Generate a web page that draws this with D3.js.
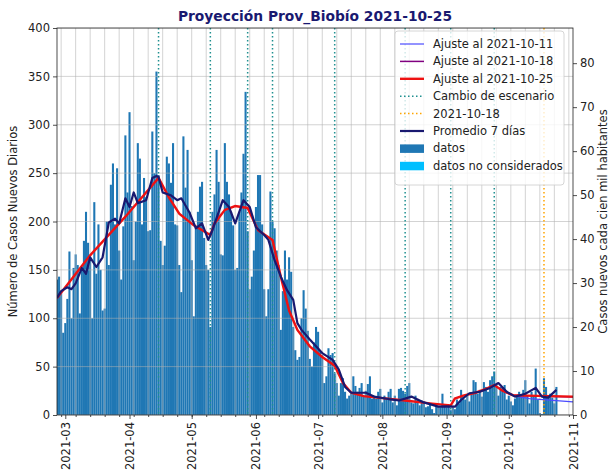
<!DOCTYPE html>
<html><head><meta charset="utf-8">
<script src="https://cdn.jsdelivr.net/npm/d3@7"></script>
<style>body{margin:0;background:#fff} svg{display:block} text{font-family:"DejaVu Sans",sans-serif}</style>
</head><body><svg id="c" width="613" height="474"></svg>
<script>
// ---------------- DATA ----------------
const titleText = "Proyección Prov_Biobío 2021-10-25";
const startDate = "2021-02-25";
const casesFeb = [140,143,127,85];
const casesMar = [95,120,169,100,152,166,155,105,150,180,210,178,160,100,220,146,197,150,108,110,200,155,238,260,197,255,170,140,195,289,230];
const casesApr = [313,216,160,200,281,265,197,245,225,190,191,293,250,355,248,180,155,175,267,260,240,281,197,196,155,127,288,235,274,210];
const casesMay = [160,102,193,210,236,241,183,155,150,91,210,228,274,241,166,165,281,241,228,210,196,150,152,210,230,270,334,190,130,143,170];
const casesJun = [215,248,248,197,130,102,130,231,200,193,170,155,88,128,170,140,163,148,91,67,57,60,100,129,110,87,58,50,75,91];
const casesJul = [86,66,62,33,40,69,62,64,43,33,20,33,38,24,17,20,22,40,30,24,28,33,20,25,32,40,17,20,17,24,27];
const casesAug = [13,20,17,24,27,13,20,10,27,28,25,22,30,33,13,12,20,16,10,15,14,8,9,12,6,2,12,9,8,22,10];
const casesSep = [8,10,5,8,6,16,12,26,19,16,20,14,22,36,34,22,26,19,34,29,24,36,40,45,31,20,29,29,31,16];
const casesOct = [20,14,10,17,19,24,20,26,36,20,12,24,20,48,16,2,1,38,29,19,22,18,12,29];

const avgDates = ["2021-02-25","2021-02-27","2021-03-02","2021-03-04","2021-03-06","2021-03-09","2021-03-11","2021-03-13","2021-03-16","2021-03-19","2021-03-22","2021-03-25","2021-03-27","2021-03-30","2021-04-01","2021-04-03","2021-04-05","2021-04-09","2021-04-12","2021-04-14","2021-04-15","2021-04-17","2021-04-21","2021-04-24","2021-04-26","2021-04-30","2021-05-03","2021-05-06","2021-05-09","2021-05-11","2021-05-16","2021-05-19","2021-05-22","2021-05-26","2021-05-29","2021-06-01","2021-06-05","2021-06-07","2021-06-10","2021-06-13","2021-06-16","2021-06-19","2021-06-21","2021-06-23","2021-06-27","2021-07-03","2021-07-08","2021-07-11","2021-07-14","2021-07-17","2021-07-24","2021-07-28","2021-08-04","2021-08-09","2021-08-15","2021-08-21","2021-08-28","2021-09-01","2021-09-05","2021-09-08","2021-09-12","2021-09-17","2021-09-22","2021-09-26","2021-09-30","2021-10-04","2021-10-09","2021-10-14","2021-10-17","2021-10-20","2021-10-24"];
const avgValues = [121,128,132,130,136,152,146,163,153,163,199,203,198,224,215,230,219,222,245,247,246,230,227,222,224,209,193,198,181,191,222,215,198,222,215,194,186,181,160,143,129,119,95,88,78,64,57,47,29,23,23,19,16.5,15,19,13,8.6,9,8.6,15.5,22.5,24,28,33,24,19,22,28,19,18,26];

const fit25Dates = ["2021-02-25","2021-03-13","2021-03-30","2021-04-15","2021-04-20","2021-04-25","2021-05-02","2021-05-10","2021-05-12","2021-05-17","2021-05-22","2021-05-28","2021-06-02","2021-06-09","2021-06-13","2021-06-17","2021-06-21","2021-06-27","2021-07-03","2021-07-09","2021-07-13","2021-07-17","2021-07-23","2021-08-01","2021-08-12","2021-08-25","2021-09-03","2021-09-05","2021-09-09","2021-09-15","2021-09-20","2021-09-24","2021-09-28","2021-10-03","2021-10-10","2021-11-01"];
const fit25Values = [121,165,205,245,225,208,196,186,198,212,216,214,191,181,143,108,88,71,60,51,33,23,19.5,17.5,15,11.8,10,17,20,23,27,31,25,20.5,20,19];
const fit18Dates = ["2021-09-24","2021-09-28","2021-10-03","2021-10-10","2021-11-01"];
const fit18Values = [31,25,20.5,20,18.6];
const fit11Dates = ["2021-09-24","2021-09-28","2021-10-03","2021-10-11","2021-11-01"];
const fit11Values = [31,25,20,17,13.6];

const scenarioDates = ["2021-04-15","2021-05-10","2021-05-28","2021-06-09","2021-07-09","2021-08-12","2021-09-03","2021-09-24"];
const markDate = "2021-10-18";

const leftTicks = [0,50,100,150,200,250,300,350,400];
const rightTicks = [0,10,20,30,40,50,60,70,80];
const monthTicks = ["2021-03-01","2021-04-01","2021-05-01","2021-06-01","2021-07-01","2021-08-01","2021-09-01","2021-10-01","2021-11-01"];
const legendLabels = ["Ajuste al 2021-10-11","Ajuste al 2021-10-18","Ajuste al 2021-10-25","Cambio de escenario","2021-10-18","Promedio 7 días","datos","datos no considerados"];

// ---------------- CHART ----------------
const svg = d3.select("#c");
const M = {l:57, r:573, t:28, b:415};
const parse = d3.utcParse("%Y-%m-%d");
const x = d3.scaleUtc().domain([parse("2021-02-25"), parse("2021-11-01")]).range([M.l, M.r]);
const y = d3.scaleLinear().domain([0,400]).range([M.b, M.t]);
const y2 = d3.scaleLinear().domain([0,88]).range([M.b, M.t]);
const FS = 11.5;

svg.append("defs").append("clipPath").attr("id","clip")
  .append("rect").attr("x",M.l).attr("y",M.t).attr("width",M.r-M.l).attr("height",M.b-M.t);
const plot = svg.append("g").attr("clip-path","url(#clip)");

const allCases = [].concat(casesFeb,casesMar,casesApr,casesMay,casesJun,casesJul,casesAug,casesSep,casesOct);
const d0 = parse(startDate);
const bars = allCases.map((v,i)=>({date:d3.utcDay.offset(d0,i), v}));
const bw = x(d3.utcDay.offset(d0,1)) - x(d0);

plot.selectAll("rect.bar").data(bars).join("rect").attr("class","bar")
  .attr("x", d=>x(d.date)-bw/2).attr("width", bw)
  .attr("y", d=>y(d.v)).attr("height", d=>y(0)-y(d.v))
  .attr("fill","#1f77b4");

// grid
const weeks = d3.utcSaturday.range(x.domain()[0], x.domain()[1]);
plot.selectAll("line.vg").data(weeks).join("line")
  .attr("x1",d=>x(d)).attr("x2",d=>x(d)).attr("y1",M.t).attr("y2",M.b)
  .attr("stroke","#b0b0b0").attr("stroke-opacity",0.7).attr("stroke-width",0.8);
plot.selectAll("line.hg").data(leftTicks).join("line")
  .attr("x1",M.l).attr("x2",M.r).attr("y1",d=>y(d)).attr("y2",d=>y(d))
  .attr("stroke","#b0b0b0").attr("stroke-opacity",0.7).attr("stroke-width",0.8);

// scenario lines
plot.selectAll("line.sc").data(scenarioDates.map(parse)).join("line")
  .attr("x1",d=>x(d)).attr("x2",d=>x(d)).attr("y1",M.t).attr("y2",M.b)
  .attr("stroke","#1f9090").attr("stroke-width",1.5).attr("stroke-dasharray","1.5,2.5");
plot.append("line").attr("x1",x(parse(markDate))).attr("x2",x(parse(markDate))).attr("y1",M.t).attr("y2",M.b)
  .attr("stroke","#ffa500").attr("stroke-width",1.5).attr("stroke-dasharray","1.5,2.5");

const line = d3.line().x(d=>x(d[0])).y(d=>y(d[1]));
const zipPts = (ds,vs)=>ds.map((d,i)=>[parse(d),vs[i]]);
plot.append("path").attr("d",line(zipPts(fit11Dates,fit11Values))).attr("fill","none").attr("stroke","#4b4bff").attr("stroke-width",1.2);
plot.append("path").attr("d",line(zipPts(fit18Dates,fit18Values))).attr("fill","none").attr("stroke","#800080").attr("stroke-width",1.5);
plot.append("path").attr("d",line(zipPts(fit25Dates,fit25Values))).attr("fill","none").attr("stroke","#ee1111").attr("stroke-width",2.4);
plot.append("path").attr("d",line(zipPts(avgDates,avgValues))).attr("fill","none").attr("stroke","#191970").attr("stroke-width",2.2).attr("stroke-linejoin","round");

// axes
function styleAxis(g){
  g.selectAll("text").attr("font-size",FS).attr("fill","#222").attr("font-family","DejaVu Sans");
  g.selectAll("line").attr("stroke","#222").attr("stroke-width",0.8);
  g.select(".domain").remove();
}
svg.append("g").attr("transform",`translate(${M.l},0)`)
  .call(d3.axisLeft(y).tickValues(leftTicks).tickSize(4).tickPadding(3)).call(styleAxis);
svg.append("g").attr("transform",`translate(${M.r},0)`)
  .call(d3.axisRight(y2).tickValues(rightTicks).tickSize(4).tickPadding(3)).call(styleAxis);
svg.append("g").attr("transform",`translate(0,${M.b})`)
  .call(d3.axisBottom(x).tickValues(weeks).tickSize(2).tickFormat("")).call(styleAxis);
const xa = svg.append("g").attr("transform",`translate(0,${M.b})`)
  .call(d3.axisBottom(x).tickValues(monthTicks.map(parse)).tickSize(4).tickFormat(d3.utcFormat("%Y-%m"))).call(styleAxis);
xa.selectAll("text").attr("transform","rotate(-90)").attr("text-anchor","end")
  .attr("x",-7).attr("y",0).attr("dy","0.35em");

svg.append("rect").attr("x",M.l).attr("y",M.t).attr("width",M.r-M.l).attr("height",M.b-M.t)
  .attr("fill","none").attr("stroke","#222").attr("stroke-width",0.8);

// labels
svg.append("text").attr("x",315).attr("y",21).attr("text-anchor","middle")
  .attr("font-size",13.8).attr("font-weight","bold").attr("fill","#191970").text(titleText);
svg.append("text").attr("transform",`translate(17,${(M.t+M.b)/2}) rotate(-90)`).attr("text-anchor","middle")
  .attr("font-size",FS).attr("fill","#222").text("Número de Casos Nuevos Diarios");
svg.append("text").attr("transform",`translate(607,${(M.t+M.b)/2}) rotate(-90)`).attr("text-anchor","middle")
  .attr("font-size",FS).attr("fill","#222").text("Casos nuevos cada cien mil habitantes");

// legend
const lg = svg.append("g");
lg.append("rect").attr("x",395).attr("y",31).attr("width",169).attr("height",154).attr("rx",3)
  .attr("fill","#fff").attr("fill-opacity",0.8).attr("stroke","#cccccc").attr("stroke-width",0.8);
const handles = [
  {t:"line",c:"#4b4bff",w:1.2},{t:"line",c:"#800080",w:1.5},{t:"line",c:"#ee1111",w:2.4},
  {t:"dot",c:"#1f9090"},{t:"dot",c:"#ffa500"},{t:"line",c:"#191970",w:2.2},
  {t:"patch",c:"#1f77b4"},{t:"patch",c:"#00bfff"}];
legendLabels.forEach((lab,i)=>{
  const ry = 44 + i*17.4;
  const h = handles[i];
  if(h.t==="patch") lg.append("rect").attr("x",400).attr("y",ry-4).attr("width",24).attr("height",8.5).attr("fill",h.c);
  else lg.append("line").attr("x1",400).attr("x2",424).attr("y1",ry).attr("y2",ry).attr("stroke",h.c)
    .attr("stroke-width",h.t==="dot"?1.5:h.w).attr("stroke-dasharray",h.t==="dot"?"1.5,2.5":null);
  lg.append("text").attr("x",433).attr("y",ry).attr("dy","0.35em").attr("font-size",FS).attr("fill","#222").text(lab);
});
</script></body></html>
